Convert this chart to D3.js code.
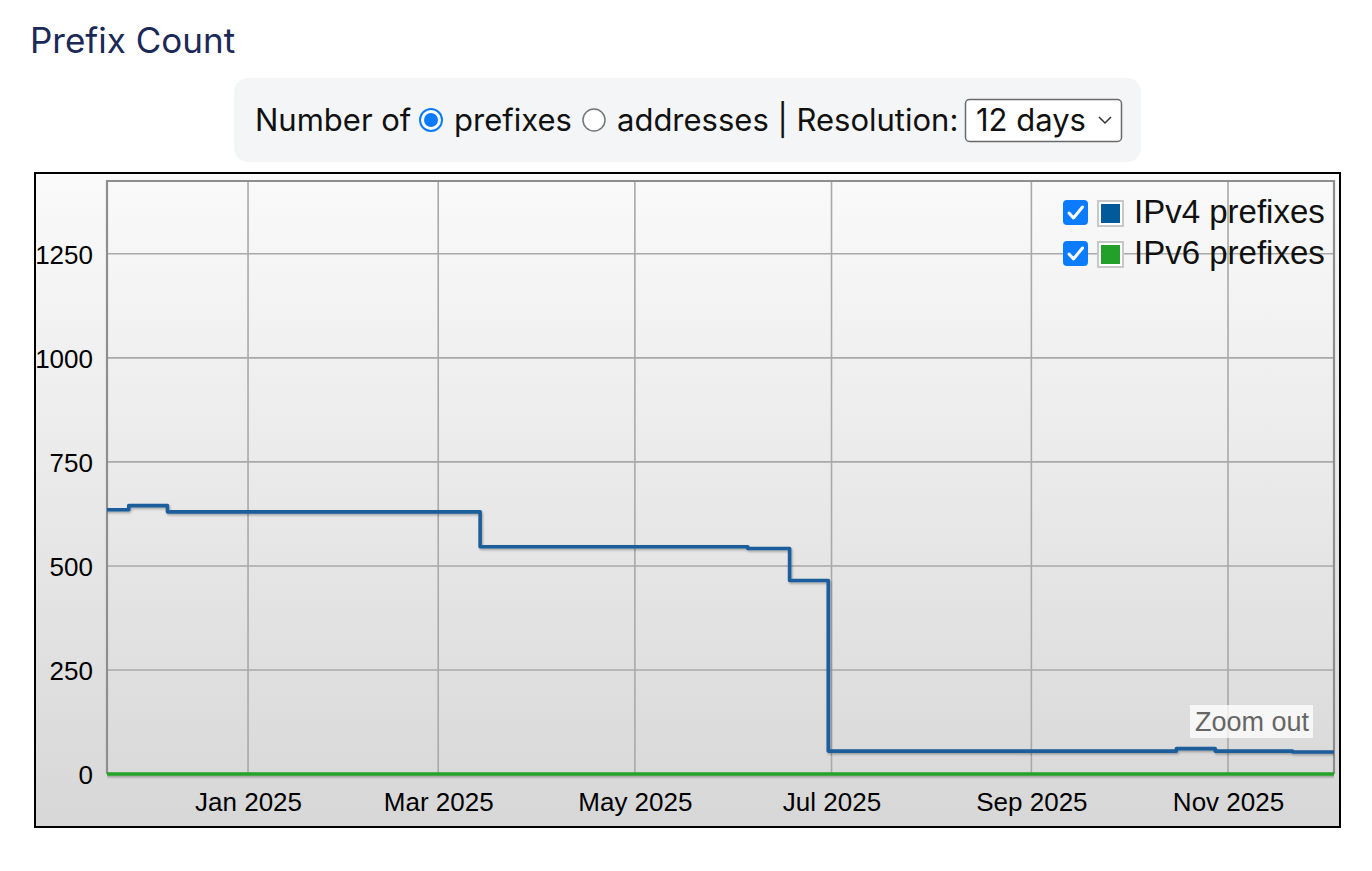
<!DOCTYPE html>
<html><head><meta charset="utf-8">
<script src="https://cdn.jsdelivr.net/npm/d3@7"></script>
<style>
body{margin:0;background:#fff;}
svg{display:block;}
</style>
</head><body>
<svg id="c" width="1372" height="871"></svg>
<script>
// ---- data ----
const stepDates = ["2024-11-18","2024-11-25","2024-12-07","2025-03-14","2025-06-05","2025-06-18","2025-06-30","2025-10-16","2025-10-28","2025-11-21","2025-12-04"];
const ipv4Values = [635,645,630,546,542,465,55,61,55,53,53];
const ipv6Values = [0,0,0,0,0,0,0,0,0,0,0];
const seriesNames = ["IPv4 prefixes","IPv6 prefixes"];
const yTicks = [0,250,500,750,1000,1250];
const xTickDates = ["2025-01-01","2025-03-01","2025-05-01","2025-07-01","2025-09-01","2025-11-01"];
const xTickLabels = ["Jan 2025","Mar 2025","May 2025","Jul 2025","Sep 2025","Nov 2025"];
const xDomain = ["2024-11-18T06:00","2025-12-03T21:00"];
const yMax = 1425;

// ---- styles ----
const colors = ["#1c5d9c","#26a22a"];
const legendColors = ["#035a9b","#22a02a"];
const chartFont = "'Liberation Sans', Arial, sans-serif";
const uiFont = "Inter, Roboto, sans-serif";

const svg = d3.select("#c");
const defs = svg.append("defs");
const grad = defs.append("linearGradient").attr("id","bg").attr("x1",0).attr("y1",0).attr("x2",0).attr("y2",1);
grad.append("stop").attr("offset","0%").attr("stop-color","#fafafa");
grad.append("stop").attr("offset","100%").attr("stop-color","#d7d7d7");
const sh = defs.append("filter").attr("id","shadow").attr("filterUnits","userSpaceOnUse")
  .attr("x",0).attr("y",0).attr("width",1372).attr("height",871);
sh.append("feDropShadow").attr("dx",1).attr("dy",1.5).attr("stdDeviation",1.3).attr("flood-color","#000").attr("flood-opacity",0.3);
const blur = defs.append("filter").attr("id","soft").attr("filterUnits","userSpaceOnUse")
  .attr("x",0).attr("y",0).attr("width",1372).attr("height",871);
blur.append("feGaussianBlur").attr("stdDeviation",0.5);

// Title
svg.append("text").attr("x",30).attr("y",53).attr("font-family",uiFont).attr("font-size",35)
  .attr("fill","#1b2957").text("Prefix Count");

// Controls panel
svg.append("rect").attr("x",234).attr("y",78).attr("width",907).attr("height",84).attr("rx",14).attr("fill","#f4f5f7");
const ui = svg.append("g").attr("font-family",uiFont).attr("font-size",31).attr("fill","#111");
ui.append("text").attr("x",255).attr("y",131).text("Number of");
ui.append("circle").attr("cx",431).attr("cy",120).attr("r",11).attr("fill","#fff").attr("stroke","#0a7aff").attr("stroke-width",2);
ui.append("circle").attr("cx",431).attr("cy",120).attr("r",7).attr("fill","#0a7aff");
ui.append("text").attr("x",454).attr("y",131).text("prefixes");
ui.append("circle").attr("cx",594).attr("cy",120).attr("r",11).attr("fill","#fff").attr("stroke","#777").attr("stroke-width",1.5);
ui.append("text").attr("x",617).attr("y",131).text("addresses | Resolution:");
ui.append("rect").attr("x",965.5).attr("y",99.5).attr("width",156).attr("height",42).attr("rx",4).attr("fill","#fff").attr("stroke","#6a6a6a").attr("stroke-width",1.5);
ui.append("text").attr("x",976).attr("y",131).text("12 days");
ui.append("path").attr("d","M1099,117 l6,6 l6,-6").attr("fill","none").attr("stroke","#333").attr("stroke-width",1.5);

// Chart container
svg.append("rect").attr("x",35).attr("y",173).attr("width",1305).attr("height",654).attr("fill","url(#bg)").attr("stroke","#000").attr("stroke-width",2);

const x = d3.scaleTime().domain(xDomain.map(d=>new Date(d))).range([107,1334]);
const y = d3.scaleLinear().domain([0,yMax]).range([774,181]);

// gridlines
const grid = svg.append("g").attr("filter","url(#soft)");
grid.selectAll("line.h").data(yTicks.filter(d=>d>0)).join("line")
  .attr("x1",x.range()[0]).attr("x2",x.range()[1]).attr("y1",d=>y(d)).attr("y2",d=>y(d))
  .attr("stroke","#a9a9a9").attr("stroke-width",1.6);
grid.selectAll("line.v").data(xTickDates).join("line")
  .attr("x1",d=>x(new Date(d))).attr("x2",d=>x(new Date(d))).attr("y1",y.range()[1]).attr("y2",y.range()[0])
  .attr("stroke","#a9a9a9").attr("stroke-width",1.6);
// plot border
svg.append("path").attr("d",`M${x.range()[0]},${y.range()[0]} V${y.range()[1]} H${x.range()[1]} V${y.range()[0]}`)
  .attr("fill","none").attr("stroke","#8e8e8e").attr("stroke-width",2.2).attr("filter","url(#soft)");

// axes labels
const yAxis = d3.axisLeft(y).tickValues(yTicks).tickFormat(d3.format("d")).tickSize(0).tickSizeOuter(0).tickPadding(14);
const gy = svg.append("g").attr("transform",`translate(${x.range()[0]},0)`).call(yAxis);
gy.select(".domain").remove();
gy.selectAll(".tick line").remove();
gy.selectAll("text").attr("font-family",chartFont).attr("font-size",26).attr("fill","#000").attr("dy","0.36em");

const xAxis = d3.axisBottom(x).tickValues(xTickDates.map(d=>new Date(d))).tickFormat((d,i)=>xTickLabels[i]).tickSize(0).tickSizeOuter(0).tickPadding(19);
const gx = svg.append("g").attr("transform",`translate(0,${y.range()[0]})`).call(xAxis);
gx.select(".domain").remove();
gx.selectAll(".tick line").remove();
gx.selectAll("text").attr("font-family",chartFont).attr("font-size",26).attr("fill","#000");

// lines
const line = d3.line().x(d=>x(d.date)).y(d=>y(d.v)).curve(d3.curveStepAfter);
const seriesData = [ipv4Values, ipv6Values].map(vals => stepDates.map((s,i)=>({date:new Date(s), v:vals[i]})));
const clip = defs.append("clipPath").attr("id","pc");
clip.append("rect").attr("x",x.range()[0]).attr("y",y.range()[1]-5).attr("width",x.range()[1]-x.range()[0]).attr("height",y.range()[0]-y.range()[1]+10);
const lg = svg.append("g").attr("clip-path","url(#pc)");
[1,0].forEach(i=>{
  lg.append("path").datum(seriesData[i]).attr("d",line).attr("fill","none")
    .attr("stroke",colors[i]).attr("stroke-width",3.6).attr("stroke-linejoin","round").attr("filter","url(#shadow)");
});

// legend
const leg = svg.append("g").attr("font-family",chartFont).attr("font-size",33).attr("fill","#111");
seriesNames.forEach((n,i)=>{
  const yy = 200 + i*41;
  leg.append("rect").attr("x",1063).attr("y",yy).attr("width",25).attr("height",25).attr("rx",4).attr("fill","#0b7cff");
  leg.append("path").attr("d",`M${1069},${yy+13} l4.5,5 l9,-11`).attr("fill","none").attr("stroke","#fff").attr("stroke-width",3).attr("stroke-linecap","round").attr("stroke-linejoin","round");
  leg.append("rect").attr("x",1098).attr("y",yy+1).attr("width",25).attr("height",25).attr("fill","#fff").attr("stroke","#c8c8c8").attr("stroke-width",2);
  leg.append("rect").attr("x",1101).attr("y",yy+4).attr("width",19).attr("height",19).attr("fill",legendColors[i]);
  leg.append("text").attr("x",1134).attr("y",yy+23).text(n);
});

// zoom out button
svg.append("rect").attr("x",1190).attr("y",705).attr("width",123).attr("height",33).attr("fill","#fff").attr("fill-opacity",0.75);
svg.append("text").attr("x",1252).attr("y",731).attr("text-anchor","middle").attr("font-family",chartFont).attr("font-size",27).attr("fill","#666").text("Zoom out");
</script>
</body></html>
